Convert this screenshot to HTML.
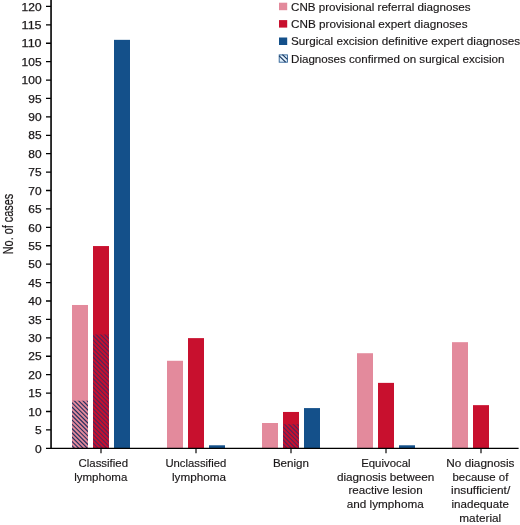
<!DOCTYPE html>
<html lang="en"><head><meta charset="utf-8"><title>Diagnoses chart</title>
<style>html,body{margin:0;padding:0;background:#fff}svg{display:block}text{font-family:"Liberation Sans",Arial,sans-serif;fill:#1a1718}</style></head><body>
<svg width="520" height="525" viewBox="0 0 520 525">
<rect width="520" height="525" fill="#fff"/>
<rect x="72.0" y="304.98" width="16" height="143.62" fill="#E38A9C"/>
<rect x="93.0" y="246.06" width="16" height="202.54" fill="#C8102E"/>
<rect x="114.0" y="39.84" width="16" height="408.76" fill="#14508A"/>
<clipPath id="c1"><rect x="72.0" y="400.73" width="16.0" height="47.87"/></clipPath>
<path clip-path="url(#c1)" d="M71.0 380.27l18.0 18.0M71.0 384.57l18.0 18.0M71.0 388.87l18.0 18.0M71.0 393.17l18.0 18.0M71.0 397.47l18.0 18.0M71.0 401.77l18.0 18.0M71.0 406.07l18.0 18.0M71.0 410.37l18.0 18.0M71.0 414.67l18.0 18.0M71.0 418.97l18.0 18.0M71.0 423.27l18.0 18.0M71.0 427.57l18.0 18.0M71.0 431.87l18.0 18.0M71.0 436.17l18.0 18.0M71.0 440.47l18.0 18.0M71.0 444.77l18.0 18.0" stroke="#27305f" stroke-width="1.15" fill="none"/>
<clipPath id="c2"><rect x="93.0" y="334.44" width="16.0" height="114.16"/></clipPath>
<path clip-path="url(#c2)" d="M92.0 313.15l18.0 18.0M92.0 317.45l18.0 18.0M92.0 321.75l18.0 18.0M92.0 326.05l18.0 18.0M92.0 330.35l18.0 18.0M92.0 334.65l18.0 18.0M92.0 338.95l18.0 18.0M92.0 343.25l18.0 18.0M92.0 347.55l18.0 18.0M92.0 351.85l18.0 18.0M92.0 356.15l18.0 18.0M92.0 360.45l18.0 18.0M92.0 364.75l18.0 18.0M92.0 369.05l18.0 18.0M92.0 373.35l18.0 18.0M92.0 377.65l18.0 18.0M92.0 381.95l18.0 18.0M92.0 386.25l18.0 18.0M92.0 390.55l18.0 18.0M92.0 394.85l18.0 18.0M92.0 399.15l18.0 18.0M92.0 403.45l18.0 18.0M92.0 407.75l18.0 18.0M92.0 412.05l18.0 18.0M92.0 416.35l18.0 18.0M92.0 420.65l18.0 18.0M92.0 424.95l18.0 18.0M92.0 429.25l18.0 18.0M92.0 433.55l18.0 18.0M92.0 437.85l18.0 18.0M92.0 442.15l18.0 18.0M92.0 446.45l18.0 18.0" stroke="#55255a" stroke-width="1.15" fill="none"/>
<rect x="167.0" y="360.77" width="16" height="87.83" fill="#E38A9C"/>
<rect x="188.0" y="338.12" width="16" height="110.48" fill="#C8102E"/>
<rect x="209.0" y="445.29" width="16" height="3.31" fill="#14508A"/>
<rect x="262.0" y="423.01" width="16" height="25.59" fill="#E38A9C"/>
<rect x="283.0" y="411.96" width="16" height="36.64" fill="#C8102E"/>
<rect x="304.0" y="408.09" width="16" height="40.51" fill="#14508A"/>
<clipPath id="c3"><rect x="283.0" y="424.30" width="16.0" height="24.30"/></clipPath>
<path clip-path="url(#c3)" d="M282.0 404.51l18.0 18.0M282.0 408.81l18.0 18.0M282.0 413.11l18.0 18.0M282.0 417.41l18.0 18.0M282.0 421.71l18.0 18.0M282.0 426.01l18.0 18.0M282.0 430.31l18.0 18.0M282.0 434.61l18.0 18.0M282.0 438.91l18.0 18.0M282.0 443.21l18.0 18.0M282.0 447.51l18.0 18.0" stroke="#55255a" stroke-width="1.15" fill="none"/>
<rect x="357.0" y="353.22" width="16" height="95.38" fill="#E38A9C"/>
<rect x="378.0" y="382.87" width="16" height="65.73" fill="#C8102E"/>
<rect x="399.0" y="445.29" width="16" height="3.31" fill="#14508A"/>
<rect x="452.0" y="342.18" width="16" height="106.42" fill="#E38A9C"/>
<rect x="473.0" y="405.15" width="16" height="43.45" fill="#C8102E"/>
<g stroke="#000" stroke-width="1.6" fill="none">
<path d="M51.05 0V449.1"/>
<path d="M46 448.4H518.6" stroke-width="1.4"/>
</g><g stroke="#000" stroke-width="1.3" fill="none">
<path d="M46 429.89H51M46 411.48H51M46 393.06H51M46 374.65H51M46 356.24H51M46 337.82H51M46 319.41H51M46 301.00H51M46 282.59H51M46 264.18H51M46 245.76H51M46 227.35H51M46 208.94H51M46 190.52H51M46 172.11H51M46 153.70H51M46 135.29H51M46 116.88H51M46 98.46H51M46 80.05H51M46 61.64H51M46 43.23H51M46 24.81H51M46 6.40H51"/>
<path d="M101 448V453.2M196 448V453.2M291 448V453.2M386 448V453.2M481 448V453.2" stroke-width="1.15"/>
</g>
<g font-size="11.4" stroke="#1a1718" stroke-width="0.25">
<text x="35.0" y="452.50" textLength="6.7" lengthAdjust="spacingAndGlyphs">0</text>
<text x="35.0" y="434.09" textLength="6.7" lengthAdjust="spacingAndGlyphs">5</text>
<text x="28.3" y="415.68" textLength="13.3" lengthAdjust="spacingAndGlyphs">10</text>
<text x="28.3" y="397.26" textLength="13.3" lengthAdjust="spacingAndGlyphs">15</text>
<text x="28.3" y="378.85" textLength="13.3" lengthAdjust="spacingAndGlyphs">20</text>
<text x="28.3" y="360.44" textLength="13.3" lengthAdjust="spacingAndGlyphs">25</text>
<text x="28.3" y="342.02" textLength="13.3" lengthAdjust="spacingAndGlyphs">30</text>
<text x="28.3" y="323.61" textLength="13.3" lengthAdjust="spacingAndGlyphs">35</text>
<text x="28.3" y="305.20" textLength="13.3" lengthAdjust="spacingAndGlyphs">40</text>
<text x="28.3" y="286.79" textLength="13.3" lengthAdjust="spacingAndGlyphs">45</text>
<text x="28.3" y="268.38" textLength="13.3" lengthAdjust="spacingAndGlyphs">50</text>
<text x="28.3" y="249.96" textLength="13.3" lengthAdjust="spacingAndGlyphs">55</text>
<text x="28.3" y="231.55" textLength="13.3" lengthAdjust="spacingAndGlyphs">60</text>
<text x="28.3" y="213.14" textLength="13.3" lengthAdjust="spacingAndGlyphs">65</text>
<text x="28.3" y="194.72" textLength="13.3" lengthAdjust="spacingAndGlyphs">70</text>
<text x="28.3" y="176.31" textLength="13.3" lengthAdjust="spacingAndGlyphs">75</text>
<text x="28.3" y="157.90" textLength="13.3" lengthAdjust="spacingAndGlyphs">80</text>
<text x="28.3" y="139.49" textLength="13.3" lengthAdjust="spacingAndGlyphs">85</text>
<text x="28.3" y="121.08" textLength="13.3" lengthAdjust="spacingAndGlyphs">90</text>
<text x="28.3" y="102.66" textLength="13.3" lengthAdjust="spacingAndGlyphs">95</text>
<text x="21.6" y="84.25" textLength="20.0" lengthAdjust="spacingAndGlyphs">100</text>
<text x="21.6" y="65.84" textLength="20.0" lengthAdjust="spacingAndGlyphs">105</text>
<text x="21.6" y="47.43" textLength="20.0" lengthAdjust="spacingAndGlyphs">110</text>
<text x="21.6" y="29.01" textLength="20.0" lengthAdjust="spacingAndGlyphs">115</text>
<text x="21.6" y="10.60" textLength="20.0" lengthAdjust="spacingAndGlyphs">120</text>
</g>
<text font-size="14" transform="translate(13 254.3) rotate(-90)" textLength="60.6" lengthAdjust="spacingAndGlyphs" stroke="#1a1718" stroke-width="0.2">No. of cases</text>
<g font-size="11.2" stroke="#1a1718" stroke-width="0.15">
<text x="78.5" y="467.0" textLength="49.5" lengthAdjust="spacingAndGlyphs">Classified</text>
<text x="74.2" y="480.7" textLength="53.1" lengthAdjust="spacingAndGlyphs">lymphoma</text>
<text x="165.4" y="467.0" textLength="60.9" lengthAdjust="spacingAndGlyphs">Unclassified</text>
<text x="172.0" y="480.7" textLength="54.0" lengthAdjust="spacingAndGlyphs">lymphoma</text>
<text x="272.9" y="467.0" textLength="36.1" lengthAdjust="spacingAndGlyphs">Benign</text>
<text x="361.2" y="467.0" textLength="49.4" lengthAdjust="spacingAndGlyphs">Equivocal</text>
<text x="336.9" y="480.7" textLength="97.4" lengthAdjust="spacingAndGlyphs">diagnosis between</text>
<text x="348.5" y="494.4" textLength="74.1" lengthAdjust="spacingAndGlyphs">reactive lesion</text>
<text x="346.8" y="508.1" textLength="76.9" lengthAdjust="spacingAndGlyphs">and lymphoma</text>
<text x="446.3" y="467.0" textLength="68.2" lengthAdjust="spacingAndGlyphs">No diagnosis</text>
<text x="452.5" y="480.7" textLength="55.9" lengthAdjust="spacingAndGlyphs">because of</text>
<text x="451.1" y="494.4" textLength="59.1" lengthAdjust="spacingAndGlyphs">insufficient/</text>
<text x="451.5" y="508.1" textLength="57.4" lengthAdjust="spacingAndGlyphs">inadequate</text>
<text x="459.3" y="521.8" textLength="41.9" lengthAdjust="spacingAndGlyphs">material</text>
</g>
<g font-size="11.6" stroke="#1a1718" stroke-width="0.15">
<rect x="279" y="2.7" width="8.2" height="7.5" fill="#E38A9C" stroke="none"/>
<text x="291.0" y="10.9" textLength="179.5" lengthAdjust="spacingAndGlyphs">CNB provisional referral diagnoses</text>
<rect x="279" y="20.1" width="8.2" height="7.5" fill="#C8102E" stroke="none"/>
<text x="291.0" y="27.8" textLength="176.5" lengthAdjust="spacingAndGlyphs">CNB provisional expert diagnoses</text>
<rect x="279" y="37.5" width="8.2" height="7.5" fill="#14508A" stroke="none"/>
<text x="291.0" y="45.1" textLength="229.1" lengthAdjust="spacingAndGlyphs">Surgical excision definitive expert diagnoses</text>
<rect x="279.2" y="54.9" width="8.2" height="7.3" fill="#e2f1fb" stroke="#2a5f95" stroke-width="0.9"/>
<path d="M279.2 55.8L285.6 62.2M282.4 54.6L287.4 59.4" stroke="#17355f" stroke-width="1.2" fill="none"/>
<text x="291.0" y="62.8" textLength="213.5" lengthAdjust="spacingAndGlyphs">Diagnoses confirmed on surgical excision</text>
</g>
</svg></body></html>
